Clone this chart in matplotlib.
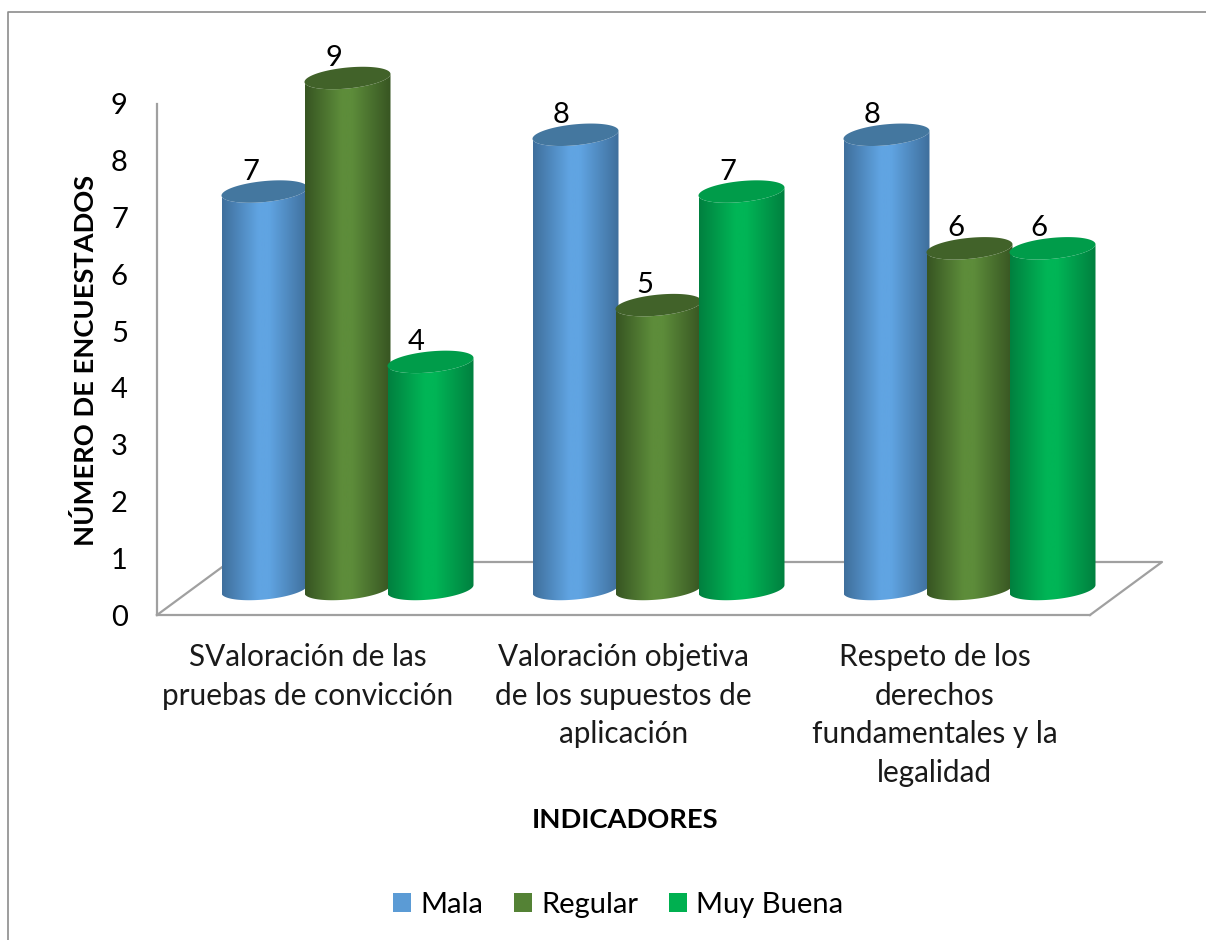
import numpy as np
import matplotlib
matplotlib.use("Agg")
import matplotlib.pyplot as plt
from matplotlib.colors import LinearSegmentedColormap
from matplotlib.lines import Line2D
from matplotlib.patches import Patch, Polygon
from matplotlib.transforms import ScaledTranslation

plt.rcParams['font.family'] = ['Lato', 'DejaVu Sans']

categories = ["SValoración de las\npruebas de convicción",
              "Valoración objetiva\nde los supuestos de\naplicación",
              "Respeto de los\nderechos\nfundamentales y la\nlegalidad"]
series_names = ["Mala", "Regular", "Muy Buena"]
mala = [7, 8, 8]
regular = [9, 5, 6]
muy_buena = [4, 7, 6]
y_ticks = list(range(10))

# edge, middle, top cap, legend
colors = [("#3f6f9c", "#60a4e2", "#44779f", "#5b9bd5"),
          ("#375522", "#5d8c3a", "#416229", "#548235"),
          ("#00803f", "#00b556", "#009c4a", "#00b050")]

W, H = 1206, 940
AX_L, AX_R, AX_T, AX_B = 157, 1090, 104, 615
GREY = "#a0a0a0"

fig = plt.figure(figsize=(W / 100, H / 100), dpi=100, facecolor="white")
ax = fig.add_axes([AX_L / W, 1 - AX_B / H, (AX_R - AX_L) / W, (AX_B - AX_T) / H])
ax.set_xlim(-0.5, 2.5)
ax.set_ylim(0, 9)
ux = 3 / (AX_R - AX_L)  # data units per pixel
uy = 9 / (AX_B - AX_T)

# 3d offset of the bars and size of the cylinders, in pixels
dx, dy = 35, 26
step, a, b, k = 83, 43, 10.5, 4


def ellipse(cx, cy, t):
    return np.c_[cx + a * ux * np.cos(t),
                 cy + (b * np.sin(t) + k * np.cos(t)) * uy]


def cylinder(x, val, c):
    cx = x + dx * ux
    top = val + dy * uy
    base = dy * uy
    lower = np.linspace(np.pi, 2 * np.pi, 60)
    body = np.r_[ellipse(cx, base, lower), ellipse(cx, top, lower[::-1])]
    poly = Polygon(body, closed=True, fc="none", ec="none", transform=ax.transData)
    ax.add_patch(poly)
    poly.set_clip_on(False)
    cmap = LinearSegmentedColormap.from_list("c", [(0, c[0]), (0.42, c[1]), (0.55, c[1]), (1, c[0])])
    im = ax.imshow(np.linspace(0, 1, 128)[None, :], cmap=cmap, aspect="auto", interpolation="bilinear",
                   extent=(cx - a * ux, cx + a * ux, 0, top + 1), zorder=3)
    im.set_clip_path(poly)
    im.set_clip_box(fig.bbox)
    cap = Polygon(ellipse(cx, top, np.linspace(0, 2 * np.pi, 120)), closed=True, fc=c[2], ec="none",
                  zorder=3, clip_on=False)
    ax.add_patch(cap)
    ax.annotate(str(val), (cx, top), xytext=(-14, 20), textcoords="offset pixels", ha="center", va="center",
                fontsize=21, color="black", zorder=6, annotation_clip=False)


# floor
ax.plot([-0.5, -0.5 + 72 * ux, 2.5 + 72 * ux, 2.5], [0, 53 * uy, 53 * uy, 0],
        color=GREY, lw=1.6, clip_on=False, zorder=1)

for i, vals in enumerate([mala, regular, muy_buena]):
    for j, v in enumerate(vals):
        cylinder(j + (i - 1) * step * ux, v, colors[i])

ax.set_xlim(-0.5, 2.5)
ax.set_ylim(0, 9)
ax.set_facecolor("none")
for s in ["top", "right"]:
    ax.spines[s].set_visible(False)
for s in ["left", "bottom"]:
    ax.spines[s].set_color(GREY)
    ax.spines[s].set_linewidth(1.6)
ax.set_yticks(y_ticks)
ax.set_yticklabels([str(t) for t in y_ticks], fontsize=21)
ax.set_xticks(range(len(categories)))
ax.set_xticklabels(categories, fontsize=21.4, linespacing=1.47, color="#1a1a1a")
ax.tick_params(axis="both", length=0)
ax.tick_params(axis="y", pad=21)
ax.tick_params(axis="x", pad=20)

# first label sits a little left of its tick
lab = ax.get_xticklabels()[0]
lab.set_transform(lab.get_transform() + ScaledTranslation(-4.5 / 100, 0, fig.dpi_scale_trans))

fig.text(86 / W, 1 - 360 / H, "NÚMERO DE ENCUESTADOS", rotation=90, ha="center", va="center",
         fontsize=19.6, fontweight="bold")
fig.text(625 / W, 1 - 820 / H, "INDICADORES", ha="center", va="center", fontsize=19.7, fontweight="bold")

handles = [Patch(fc=c[3], ec="none") for c in colors]
fig.legend(handles, series_names, loc="center", bbox_to_anchor=(618 / W, 1 - 905 / H), ncol=3, frameon=False,
           fontsize=21, handlelength=0.62, handleheight=0.62, handletextpad=0.31, columnspacing=1.06)

# chart border, only top and left are in the picture
fig.add_artist(Line2D([8 / W, 8 / W, 1], [0, 1 - 12 / H, 1 - 12 / H], color="#8c8c8c", lw=1.2))

fig.savefig("out.png", dpi=100)
